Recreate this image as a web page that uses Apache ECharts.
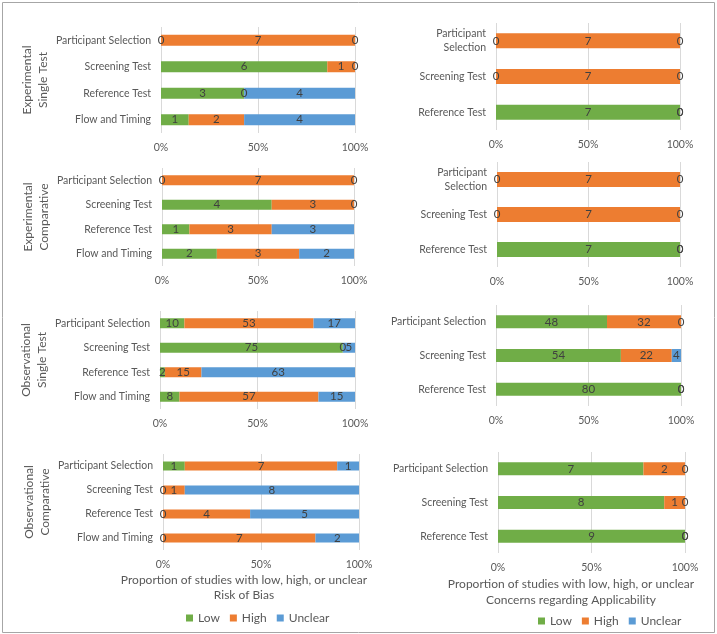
<!DOCTYPE html>
<html>
<head>
<meta charset="utf-8">
<script src="https://cdn.jsdelivr.net/npm/echarts@6/dist/echarts.min.js"></script>
<style>html,body{margin:0;padding:0;background:#fff}#c{width:717px;height:634px}</style>
</head>
<body>
<div id="c"></div>
<script>
// ---------- categories ----------
const robCats = ['Participant Selection', 'Screening Test', 'Reference Test', 'Flow and Timing'];
const appCatsWrap = ['Participant\nSelection', 'Screening Test', 'Reference Test'];
const appCats = ['Participant Selection', 'Screening Test', 'Reference Test'];
const seriesNames = ['Low', 'High', 'Unclear'];
const tickLabels = ['0%', '50%', '100%'];

// ---------- counts (Low, High, Unclear) ----------
const expSingleRobLow = [0, 6, 3, 1];
const expSingleRobHigh = [7, 1, 0, 2];
const expSingleRobUnclear = [0, 0, 4, 4];

const expSingleAppLow = [0, 0, 7];
const expSingleAppHigh = [7, 7, 0];
const expSingleAppUnclear = [0, 0, 0];

const expCompRobLow = [0, 4, 1, 2];
const expCompRobHigh = [7, 3, 3, 3];
const expCompRobUnclear = [0, 0, 3, 2];

const expCompAppLow = [0, 0, 7];
const expCompAppHigh = [7, 7, 0];
const expCompAppUnclear = [0, 0, 0];

const obsSingleRobLow = [10, 75, 2, 8];
const obsSingleRobHigh = [53, 0, 15, 57];
const obsSingleRobUnclear = [17, 5, 63, 15];

const obsSingleAppLow = [48, 54, 80];
const obsSingleAppHigh = [32, 22, 0];
const obsSingleAppUnclear = [0, 4, 0];

const obsCompRobLow = [1, 0, 0, 0];
const obsCompRobHigh = [7, 1, 4, 7];
const obsCompRobUnclear = [1, 8, 5, 2];

const obsCompAppLow = [7, 8, 9];
const obsCompAppHigh = [2, 1, 0];
const obsCompAppUnclear = [0, 0, 0];

// ---------- layout ----------
const FONT = 'Lato';
const TXT = '#595959';
const colors = ['#70AD47', '#ED7D31', '#5B9BD5'];

const panels = [
  {cats: robCats, data: [expSingleRobLow, expSingleRobHigh, expSingleRobUnclear], box: [161, 27, 194, 106], bw: 11, title: 'Experimental\nSingle Test'},
  {cats: appCatsWrap, data: [expSingleAppLow, expSingleAppHigh, expSingleAppUnclear], box: [496, 23, 184, 107], bw: 15},
  {cats: robCats, data: [expCompRobLow, expCompRobHigh, expCompRobUnclear], box: [162, 168, 192, 98], bw: 10, title: 'Experimental\nComparative'},
  {cats: appCatsWrap, data: [expCompAppLow, expCompAppHigh, expCompAppUnclear], box: [497, 162, 183, 105], bw: 15},
  {cats: robCats, data: [obsSingleRobLow, obsSingleRobHigh, obsSingleRobUnclear], box: [160, 311, 195, 98], bw: 10, title: 'Observational\nSingle Test'},
  {cats: appCats, data: [obsSingleAppLow, obsSingleAppHigh, obsSingleAppUnclear], box: [496, 305, 185, 101], bw: 13},
  {cats: robCats, data: [obsCompRobLow, obsCompRobHigh, obsCompRobUnclear], box: [163, 454, 196, 96], bw: 9, title: 'Observational\nComparative'},
  {cats: appCats, data: [obsCompAppLow, obsCompAppHigh, obsCompAppUnclear], box: [498, 452, 187, 101], bw: 13}
];

const grid = [], xAxis = [], yAxis = [], series = [];
panels.forEach((p, i) => {
  grid.push({left: p.box[0], top: p.box[1], width: p.box[2], height: p.box[3], containLabel: false});
  xAxis.push({
    type: 'value', gridIndex: i, min: 0, max: 100, interval: 50,
    axisLine: {show: false}, axisTick: {show: false},
    splitLine: {show: true, lineStyle: {color: '#D9D9D9', width: 1}},
    axisLabel: {color: TXT, fontFamily: FONT, fontSize: 10.5, margin: 9,
      formatter: v => tickLabels[Math.round(v / 50)]}
  });
  yAxis.push({
    type: 'category', gridIndex: i, inverse: true, data: p.cats,
    axisLine: {show: false}, axisTick: {show: false},
    axisLabel: {color: TXT, fontFamily: FONT, fontSize: 10.5, margin: 10, lineHeight: 14},
    name: p.title || '', nameLocation: 'middle', nameRotate: 90, nameGap: 110,
    nameTextStyle: {color: TXT, fontFamily: FONT, fontSize: 12, lineHeight: 16, align: 'center'}
  });
  const totals = p.cats.map((c, k) => p.data[0][k] + p.data[1][k] + p.data[2][k]);
  seriesNames.forEach((nm, s) => {
    series.push({
      name: nm, type: 'bar', stack: 'p' + i, xAxisIndex: i, yAxisIndex: i,
      barWidth: p.bw, itemStyle: {color: colors[s]},
      label: {show: true, position: 'inside', color: '#404040', fontFamily: FONT, fontSize: 11.5,
        formatter: prm => String(prm.data.raw)},
      data: p.data[s].map((v, k) => ({value: v / totals[k] * 100, raw: v}))
    });
  });
});

const legendCommon = {
  data: seriesNames, itemWidth: 7, itemHeight: 7, itemGap: 10, icon: 'rect',
  textStyle: {color: TXT, fontFamily: FONT, fontSize: 12}
};

const chart = echarts.init(document.getElementById('c'), null, {renderer: 'canvas'});
chart.setOption({
  animation: false,
  grid, xAxis, yAxis, series,
  legend: [
    Object.assign({left: 181, top: 607}, legendCommon),
    Object.assign({left: 533, top: 610}, legendCommon)
  ],
  graphic: [
    {type: 'rect', shape: {x: 2.5, y: 2.5, width: 712, height: 630}, style: {fill: 'none', stroke: '#A6A6A6', lineWidth: 1}, silent: true},
    {type: 'text', x: 244, y: 573, style: {text: 'Proportion of studies with low, high, or unclear\nRisk of Bias', align: 'center', fill: TXT, font: '12px Lato', lineHeight: 15}},
    {type: 'text', x: 571, y: 576, style: {text: 'Proportion of studies with low, high, or unclear\nConcerns regarding Applicability', align: 'center', fill: TXT, font: '12px Lato', lineHeight: 16}}
  ]
});
</script>
</body>
</html>
